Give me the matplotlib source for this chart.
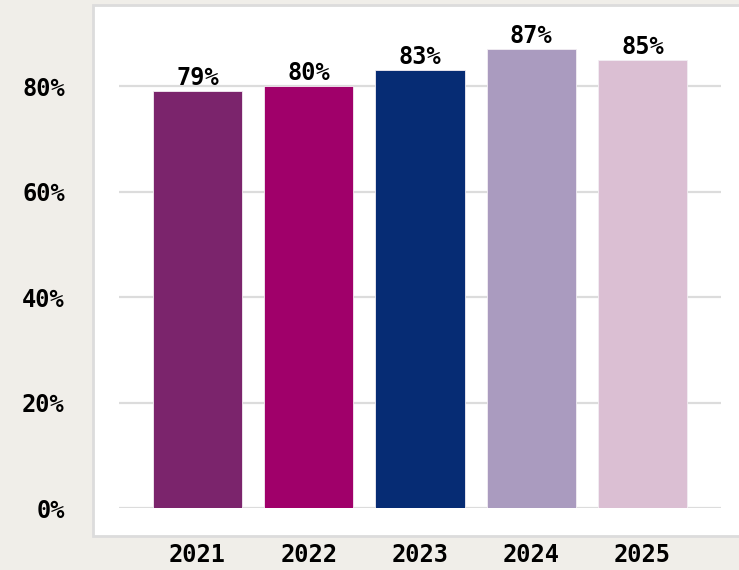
import matplotlib.pyplot as plt
from matplotlib.patches import Rectangle

years = ['2021', '2022', '2023', '2024', '2025']
values = [79, 80, 83, 87, 85]
colors = ['#7b246c', '#a0006a', '#062c74', '#aa9bbf', '#dbbfd3']
yticks = [0, 20, 40, 60, 80]

plt.rcParams['font.family'] = 'DejaVu Sans Mono'
plt.rcParams['font.weight'] = 'bold'

fig = plt.figure(figsize=(7.39, 5.70), dpi=100, facecolor='#f0eee9')

# white panel behind the chart
W, H = 739, 570
panel = Rectangle((93 / W, (H - 536) / H), (W - 93 + 10) / W, (536 - 5) / H,
                  transform=fig.transFigure, facecolor='white',
                  edgecolor='#dcdcdc', linewidth=2, zorder=-10)
fig.patches.append(panel)

ax = fig.add_axes([119 / W, (H - 508) / H, 602 / W, 501 / H])
ax.set_zorder(1)
ax.set_facecolor('none')

x = range(len(years))
ax.bar(x, values, width=0.8, color=colors, edgecolor='#f3eef3', linewidth=0.6, zorder=3)

for i, v in enumerate(values):
    ax.text(i, v + 0.2, f'{v}%', ha='center', va='bottom', fontsize=17,
            fontweight='bold', zorder=4)

ax.set_xlim(-0.705, 4.705)
ax.set_ylim(0, 95)
ax.set_yticks(yticks)
ax.set_yticklabels([f'{t}%' for t in yticks])
ax.set_xticks(list(x))
ax.set_xticklabels(years)
ax.grid(axis='y', color='#dcdcdc', linewidth=1.6, zorder=0)
ax.tick_params(axis='y', length=0, pad=39, labelsize=17)
ax.tick_params(axis='x', length=0, pad=25, labelsize=17)
for s in ax.spines.values():
    s.set_visible(False)

fig.savefig('out.png', dpi=100, facecolor=fig.get_facecolor())
